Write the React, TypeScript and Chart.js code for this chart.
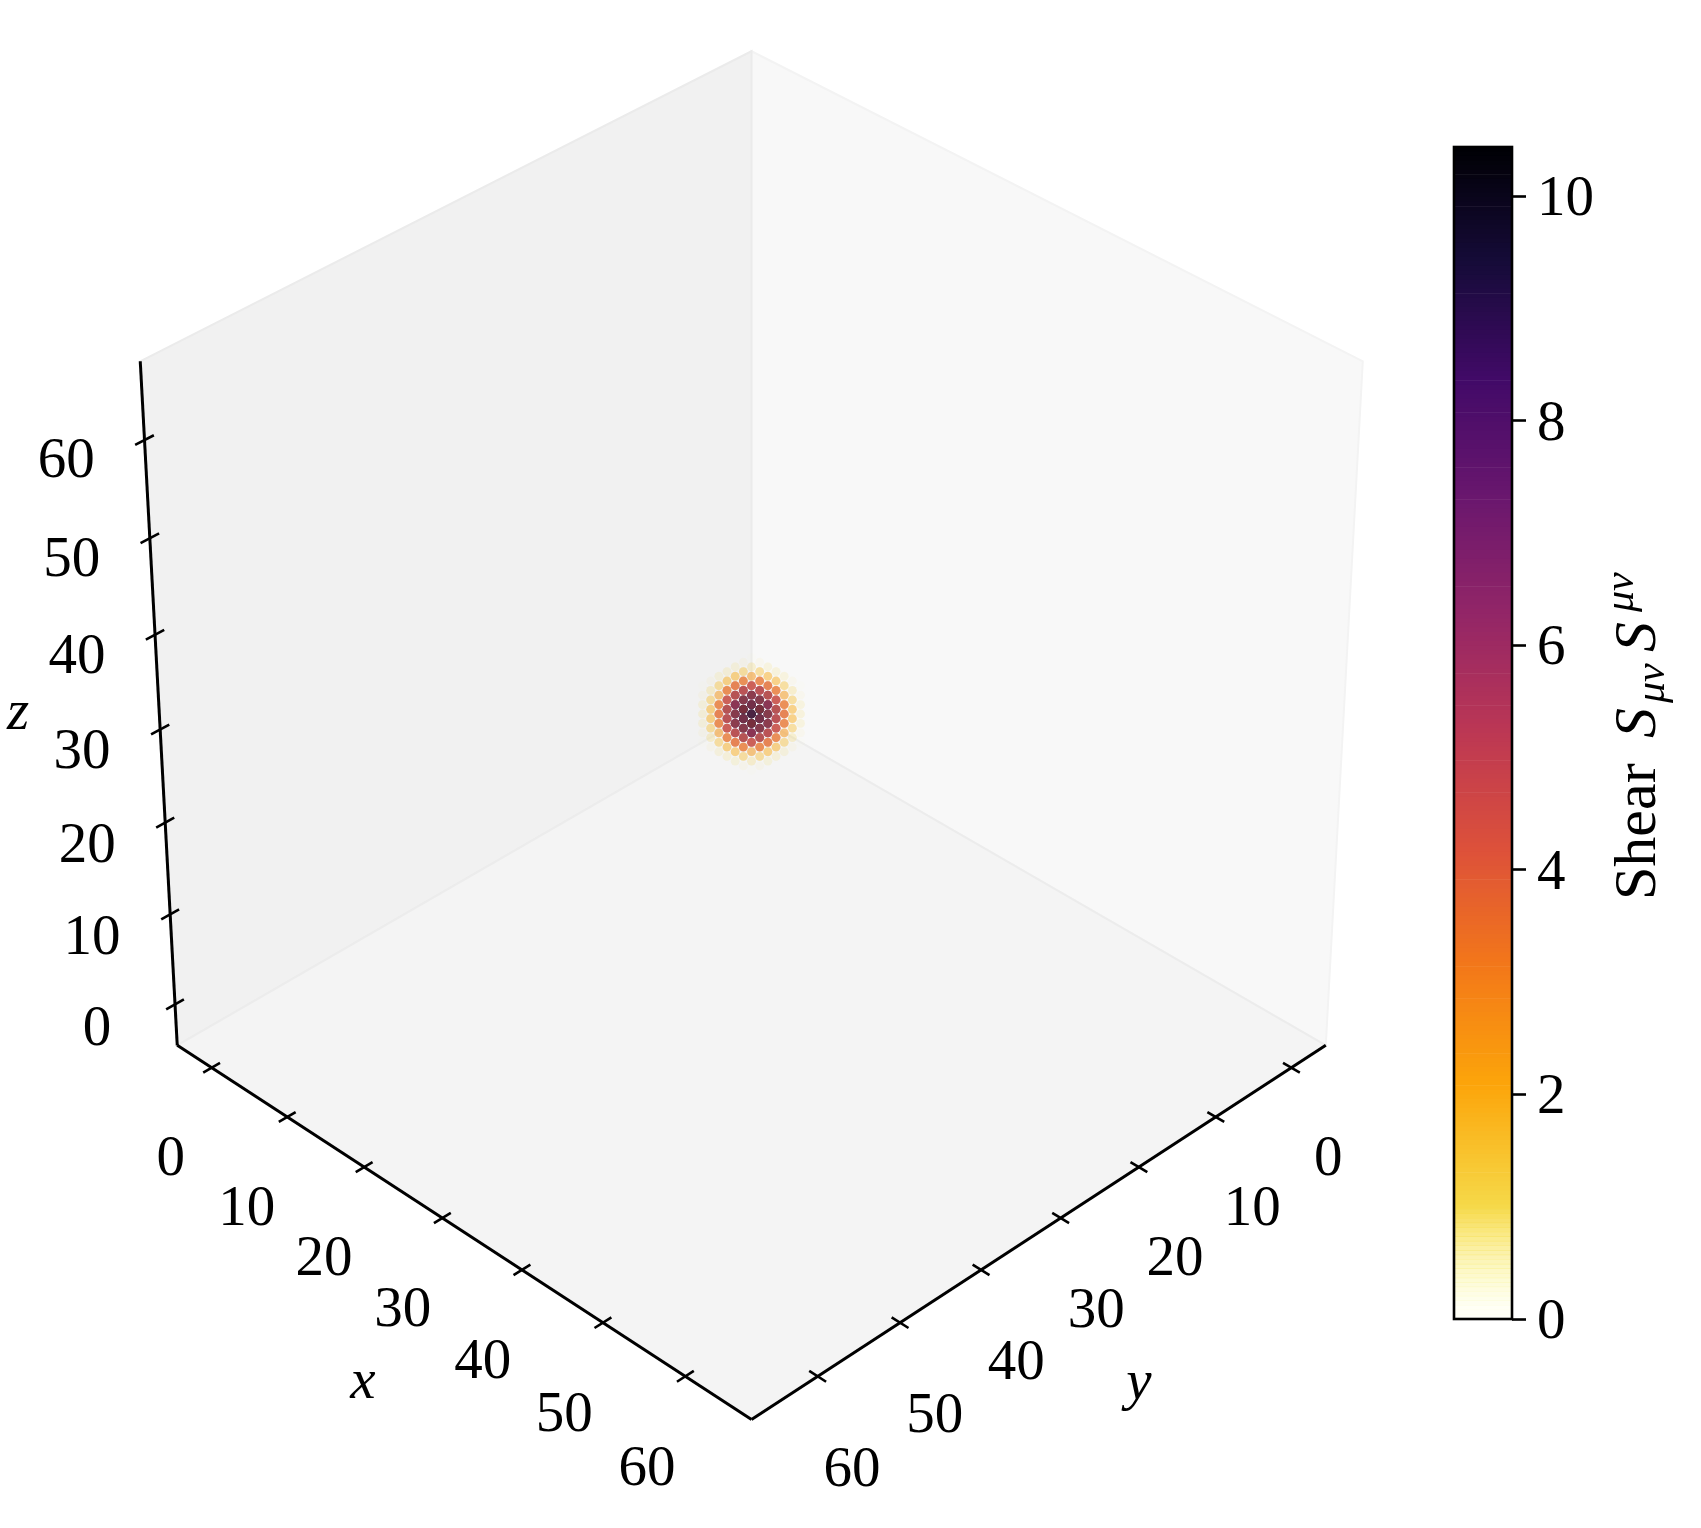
import React, { useEffect, useRef } from "react";
import { Chart, registerables } from "chart.js";

Chart.register(...registerables);

// ---------- data ----------
const axisTicks = [0, 10, 20, 30, 40, 50, 60];
const colorbarTicks = [0, 2, 4, 6, 8, 10];
const axisMin = -4.6;
const axisMax = 67.9;
const shearMax = 10.44;
const blobCentre = 32;
// squared lattice distance from the blob centre -> shear
const shellRadiusSq = [0, 1, 2, 3, 4, 5, 6, 8, 9, 10, 11, 12, 13, 14, 16, 17, 18, 19, 20, 21, 22, 24];
const shellShear = [10.4, 9.8, 9.3, 8.7, 8.0, 6.7, 6.1, 4.9, 4.2, 3.6, 3.1, 1.6, 2.3, 2.0, 1.5, 1.3, 1.1, 0.95, 0.8, 0.65, 0.5, 0.3];
// opacity of a dot for a given shear
const alphaShear = [0, 0.5, 1, 1.5, 2, 3, 4, 6, 7.3, 10.44];
const alphaValue = [0.02, 0.03, 0.08, 0.14, 0.22, 0.34, 0.44, 0.58, 0.72, 0.9];
// inferno stops, low to high
const infernoStops = ["#000004", "#160b39", "#420a68", "#6a176e", "#932667", "#bc3754", "#dd513a", "#f37819", "#fca50a", "#f6d746", "#fcffa4"];

// ---------- styling constants ----------
const SERIF = '"Liberation Serif"';
const FS = 57;
const sinE = 0.5774, cosE = 0.8165, F = 7787, D = 18.5, CX = 751, CY = 713.7;

function hexRgb(h: string) {
  return [1, 3, 5].map((i) => parseInt(h.slice(i, i + 2), 16));
}
function shearRgb(v: number) {
  const f = Math.max(0, Math.min(1, 1 - v / shearMax)) * (infernoStops.length - 1);
  const i = Math.min(infernoStops.length - 2, Math.floor(f));
  const a = hexRgb(infernoStops[i]), b = hexRgb(infernoStops[i + 1]);
  const t = f - i;
  return a.map((p, k) => Math.round(p + (b[k] - p) * t));
}
function barColor(v: number) {
  const c = shearRgb(v);
  return `rgba(${c[0]},${c[1]},${c[2]},${Math.min(1, Math.max(0.08, v))})`;
}
function dotColor(v: number) {
  const c = shearRgb(v);
  let k = 0;
  while (k < alphaShear.length - 2 && v > alphaShear[k + 1]) k++;
  const t = Math.min(1, (v - alphaShear[k]) / (alphaShear[k + 1] - alphaShear[k]));
  const alpha = alphaValue[k] + (alphaValue[k + 1] - alphaValue[k]) * t;
  return `rgba(${c[0]},${c[1]},${c[2]},${alpha})`;
}
function project(x: number, y: number, z: number) {
  const n = (d: number) => (2 * (d - axisMin)) / (axisMax - axisMin) - 1;
  const u = n(x), v = n(y), w = n(z);
  const right = (u - v) / Math.SQRT2;
  const up = (-(u + v) / Math.SQRT2) * sinE + w * cosE;
  const toward = ((u + v) / Math.SQRT2) * cosE + w * sinE;
  return { x: CX + (F * right) / (D - toward), y: CY - (F * up) / (D - toward), depth: toward };
}
function lineDs(points: { x: number; y: number }[], color: string, width: number, fill?: string) {
  return {
    type: "scatter",
    data: points,
    showLine: true,
    tension: 0,
    pointRadius: 0,
    borderColor: color,
    borderWidth: width,
    borderCapStyle: "butt",
    backgroundColor: fill ?? "transparent",
    fill: fill ? "shape" : false,
  };
}

function buildDots() {
  const pts: { x: number; y: number; depth: number; v: number }[] = [];
  for (let a = -5; a <= 5; a++)
    for (let b = -5; b <= 5; b++)
      for (let c = -5; c <= 5; c++) {
        const idx = shellRadiusSq.indexOf(a * a + b * b + c * c);
        if (idx < 0) continue;
        const p = project(blobCentre + a, blobCentre + b, blobCentre + c);
        pts.push({ ...p, v: shellShear[idx] });
      }
  return pts.sort((p, q) => p.depth - q.depth);
}

const textPlugin = {
  id: "labels3d",
  afterDraw(chart: any) {
    const ctx = chart.ctx;
    ctx.save();
    ctx.fillStyle = "#000";
    ctx.textAlign = "center";
    ctx.textBaseline = "middle";
    ctx.font = `${FS}px ${SERIF}`;
    for (const t of axisTicks) {
      const px = project(t, axisMax, axisMin);
      ctx.fillText(String(t), px.x - 37.5, px.y + 90.5);
      const py = project(axisMax, t, axisMin);
      ctx.fillText(String(t), py.x + 34.5, py.y + 91);
      const pz = project(axisMin, axisMax, t);
      ctx.fillText(String(t), pz.x - 74.5, pz.y + 24);
    }
    ctx.font = `italic ${FS}px ${SERIF}`;
    ctx.fillText("x", 363, 1383);
    ctx.fillText("y", 1139, 1384);
    ctx.fillText("z", 18, 714);
    // colour-bar label
    ctx.translate(1655, 900);
    ctx.rotate(-Math.PI / 2);
    ctx.textAlign = "left";
    ctx.textBaseline = "alphabetic";
    ctx.font = `${FS + 3}px ${SERIF}`;
    ctx.fillText("Shear", 0, 0);
    ctx.font = `italic ${FS + 3}px ${SERIF}`;
    ctx.fillText("S", 162, 0);
    ctx.fillText("S", 248, 0);
    ctx.font = `italic 42px ${SERIF}`;
    ctx.fillText("\u03bc\u03bd", 197, 9);
    ctx.fillText("\u03bc\u03bd", 288, -22);
    ctx.restore();
  },
};

const frame = {
  id: "cbFrame",
  afterDatasetsDraw(chart: any) {
    const { left, right, top, bottom } = chart.chartArea;
    const ctx = chart.ctx;
    ctx.save();
    ctx.strokeStyle = "#000";
    ctx.lineWidth = 2.6;
    ctx.strokeRect(left, top, right - left, bottom - top);
    ctx.restore();
  },
  afterDraw(chart: any) {
    const ctx = chart.ctx;
    const s = chart.scales.y;
    ctx.save();
    ctx.fillStyle = "#000";
    ctx.textAlign = "left";
    ctx.textBaseline = "middle";
    ctx.font = `${FS}px ${SERIF}`;
    for (const t of colorbarTicks) ctx.fillText(String(t), chart.chartArea.right + 25, s.getPixelForValue(t) + 4);
    ctx.restore();
  },
};

export default function App() {
  const mainRef = useRef<HTMLCanvasElement>(null);
  const cbRef = useRef<HTMLCanvasElement>(null);

  useEffect(() => {
    const lo = axisMin, hi = axisMax;
    const C0 = project(lo, lo, lo), L = project(lo, hi, lo), R = project(hi, lo, lo), B = project(hi, hi, lo);
    const Top = project(lo, lo, hi), TL = project(lo, hi, hi), TR = project(hi, lo, hi);
    const datasets: any[] = [
      lineDs([C0, R, TR, Top, C0], "#f3f3f3", 2, "#f8f8f8"),
      lineDs([C0, Top, TL, L, C0], "#ebebeb", 2, "#f1f1f1"),
      lineDs([C0, L, B, R, C0], "#ececec", 2, "#f4f4f4"),
    ];
    const dots = buildDots();
    datasets.push({
      type: "scatter",
      data: dots.map((d) => ({ x: d.x, y: d.y })),
      pointRadius: 4.4,
      pointHoverRadius: 4.4,
      pointBorderWidth: 0,
      pointBackgroundColor: dots.map((d) => dotColor(d.v)),
    });
    datasets.push(lineDs([L, B], "#000", 3));
    datasets.push(lineDs([R, B], "#000", 3));
    datasets.push(lineDs([L, TL], "#000", 3));
    for (const t of axisTicks) {
      datasets.push(lineDs([project(t, hi - 1, lo), project(t, hi + 1, lo)], "#000", 2.6));
      datasets.push(lineDs([project(hi - 1, t, lo), project(hi + 1, t, lo)], "#000", 2.6));
      datasets.push(lineDs([project(lo, hi - 1.05, t), project(lo, hi + 1.05, t)], "#000", 2.6));
    }
    // Chart.js paints the first dataset last, so the back-to-front list is reversed.
    datasets.reverse();
    const main = new Chart(mainRef.current!, {
      type: "scatter",
      data: { datasets },
      plugins: [textPlugin],
      options: {
        animation: false,
        responsive: false,
        layout: { padding: 0 },
        plugins: { legend: { display: false }, tooltip: { enabled: false } },
        scales: {
          x: { type: "linear", min: 0, max: 1701, display: false },
          y: { type: "linear", min: 0, max: 1528, reverse: true, display: false },
        },
      },
    } as any);

    const LEVELS = 256;
    const cbDatasets: any[] = [];
    for (let i = 0; i < LEVELS; i++) {
      const a = (i / LEVELS) * shearMax, b = ((i + 1) / LEVELS) * shearMax;
      cbDatasets.push({
        data: [[a, b]],
        grouped: false,
        barPercentage: 1,
        categoryPercentage: 1,
        borderWidth: 0,
        backgroundColor: barColor((a + b) / 2),
      });
    }
    const cb = new Chart(cbRef.current!, {
      type: "bar",
      data: { labels: ["shear"], datasets: cbDatasets },
      plugins: [frame],
      options: {
        animation: false,
        responsive: false,
        layout: { padding: { left: 14, top: 17, bottom: 21, right: 0 } },
        plugins: { legend: { display: false }, tooltip: { enabled: false } },
        scales: {
          x: { display: false },
          y: {
            position: "right",
            min: 0,
            max: shearMax,
            afterBuildTicks: (s: any) => {
              s.ticks = colorbarTicks.map((v) => ({ value: v }));
            },
            afterFit: (s: any) => {
              s.width = 188;
              s.paddingTop = 0;
              s.paddingBottom = 0;
            },
            border: { display: false },
            grid: { drawOnChartArea: false, tickLength: 14, tickColor: "#000", tickWidth: 2.6 },
            ticks: { display: false },
          },
        },
      },
    } as any);

    return () => {
      main.destroy();
      cb.destroy();
    };
  }, []);

  return (
    <div style={{ position: "absolute", left: 0, top: 0, width: 1701, height: 1528, background: "#fff", overflow: "hidden" }}>
      <canvas ref={mainRef} width={1701} height={1528} style={{ position: "absolute", left: 0, top: 0, display: "block" }} />
      <canvas ref={cbRef} width={260} height={1210} style={{ position: "absolute", left: 1440, top: 130, display: "block" }} />
    </div>
  );
}
